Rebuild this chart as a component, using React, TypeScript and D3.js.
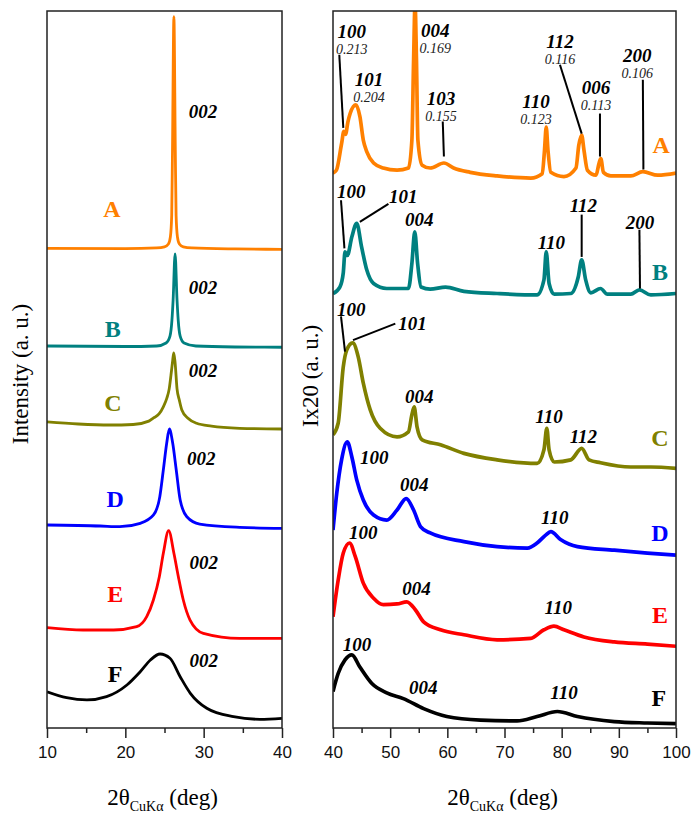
import { useEffect, useRef } from 'react';
import * as d3 from 'd3';

type Pt = [number, number];

const samples = ['A', 'B', 'C', 'D', 'E', 'F'];
const sampleColors = ['#ff8000', '#008080', '#808000', '#0000ff', '#ff0000', '#000000'];

// 002 region, 2θ 10-40 (stacked, a.u.)
const lowA: Pt[] = [[10, 66.9], [20, 66.86], [24, 66.95], [25, 67.1], [25.5, 67.5], [25.75, 68.5], [25.92, 71.5], [26.02, 80.6], [26.2, 99.2], [26.38, 80.6], [26.48, 71.5], [26.65, 68.5], [26.9, 67.5], [27.4, 67.1], [28.5, 66.95], [34, 66.81], [40, 66.76]];
const lowB: Pt[] = [[10, 53.28], [20, 53.21], [24, 53.28], [25.2, 53.7], [25.7, 54.67], [25.95, 56.9], [26.1, 59.69], [26.35, 66.11], [26.6, 59.69], [26.75, 56.9], [27, 54.67], [27.5, 53.7], [29, 53.28], [34, 53.14], [40, 53.1]];
const lowC: Pt[] = [[10, 42.7], [14, 42.4], [18, 42.26], [21, 42.33], [23, 42.8], [23.6, 43.24], [24.3, 43.8], [24.85, 44.8], [25.3, 46.0], [25.6, 47.3], [25.9, 49.9], [26.05, 51.3], [26.18, 52.3], [26.35, 51.0], [26.6, 47.3], [26.9, 45.7], [27.2, 44.4], [28, 43.2], [29.1, 42.5], [31, 42.1], [34.6, 41.8], [40, 41.7]];
const lowD: Pt[] = [[10, 28.31], [16.8, 28.17], [19.3, 28.08], [21.9, 28.55], [23.6, 29.71], [24.4, 32.26], [24.85, 35.98], [25.28, 39.71], [25.62, 41.7], [26.05, 39.71], [26.5, 35.98], [27, 31.8], [27.85, 29.47], [29.5, 28.45], [34.6, 27.99], [40, 27.85]];
const lowE: Pt[] = [[10, 13.99], [14.6, 13.67], [18.5, 13.67], [21.45, 14.13], [22.73, 15.52], [23.58, 17.85], [24.34, 21.1], [24.85, 24.37], [25.53, 27.52], [26.2, 24.37], [26.77, 21.1], [27.4, 17.85], [28.26, 15.06], [29.96, 13.21], [34.6, 12.51], [40, 12.51]];
const lowF: Pt[] = [[10, 5.06], [12.5, 4.23], [15.1, 3.91], [17.6, 4.37], [20.2, 6.0], [21.9, 7.85], [23.2, 9.48], [24.43, 10.32], [25.7, 9.72], [27, 7.15], [28.3, 4.84], [30.4, 2.75], [33.8, 1.58], [37.2, 1.21], [40, 1.35]];

// 2θ 40-100, intensity x20 (stacked, a.u.)
const highA: Pt[] = [[40.0, 77.4], [40.6, 77.8], [41.5, 81.5], [41.9, 83.2], [42.2, 82.8], [42.6, 84.5], [43.0, 85.7], [44.0, 86.9], [44.7, 85.3], [45.3, 82.0], [45.9, 80.4], [47.1, 78.8], [48.8, 78.1], [51.2, 77.8], [53.2, 78.1], [53.8, 82.0], [54.1, 93.2], [54.35, 101], [54.6, 93.2], [54.85, 82.0], [55.6, 78.5], [57.0, 78.1], [59.4, 78.8], [61.1, 78.1], [64.0, 77.5], [68.7, 77.0], [74.6, 76.7], [76.6, 77.3], [77.0, 80.6], [77.3, 83.8], [77.6, 80.6], [78.1, 77.5], [80.4, 76.9], [82.5, 78.1], [83.0, 81.3], [83.5, 82.7], [83.9, 80.6], [84.5, 77.8], [86.0, 77.1], [86.55, 78.8], [86.85, 79.4], [87.3, 77.5], [88.6, 77.0], [92.1, 77.0], [94.2, 77.6], [96.8, 77.1], [100, 77.4]];
const highB: Pt[] = [[40.0, 60.6], [41.2, 61.5], [41.8, 63.5], [42.1, 66.4], [42.5, 65.9], [43.3, 68.5], [44.15, 70.4], [45.0, 67.1], [45.9, 63.9], [47.1, 62.0], [49.4, 61.3], [53.2, 61.3], [53.8, 64.8], [54.3, 69.2], [54.8, 64.8], [55.4, 61.5], [57.0, 61.2], [59.7, 61.5], [62.9, 60.9], [68.7, 60.6], [75.7, 60.4], [76.9, 62.5], [77.3, 66.4], [77.8, 62.0], [78.7, 60.5], [81.6, 60.6], [82.9, 62.9], [83.5, 65.3], [84.2, 62.5], [85.1, 60.7], [86.8, 61.3], [88.0, 60.5], [92.1, 60.5], [93.6, 61.1], [95.6, 60.4], [100, 60.6]];
const highC: Pt[] = [[40.0, 40.9], [40.9, 42.5], [41.8, 50.4], [42.4, 52.7], [43.45, 53.7], [44.4, 51.8], [45.3, 48.1], [46.5, 44.4], [48.25, 41.8], [51.2, 40.6], [53.2, 41.3], [53.8, 43.7], [54.2, 44.8], [54.7, 42.0], [55.6, 40.2], [58.8, 39.5], [62.9, 38.3], [68.7, 37.4], [75.7, 36.9], [76.9, 38.8], [77.4, 41.8], [77.8, 38.8], [78.7, 37.1], [81.6, 37.4], [83.5, 39.0], [84.8, 37.4], [86.8, 37.0], [92.1, 36.4], [95.6, 36.4], [100, 36.2]];
const highD: Pt[] = [[40.0, 27.6], [40.65, 32.7], [41.5, 37.4], [42.5, 39.9], [43.3, 37.8], [44.15, 34.6], [45.3, 31.8], [47.1, 29.7], [49.4, 29.0], [51.2, 30.4], [52.8, 32.0], [54.1, 30.4], [55.3, 28.1], [57.0, 27.2], [62.9, 26.0], [68.7, 25.3], [74.0, 25.1], [75.7, 25.8], [77.2, 26.9], [78.1, 27.4], [79.8, 26.3], [82.75, 25.3], [89.2, 24.8], [95.0, 24.4], [100, 24.1]];
const highE: Pt[] = [[40.0, 15.5], [40.9, 20.6], [41.8, 24.4], [42.9, 25.8], [43.9, 23.9], [45.3, 20.2], [47.1, 18.1], [48.8, 17.2], [51.2, 17.3], [52.9, 17.6], [54.4, 16.5], [55.85, 14.8], [58.8, 13.7], [62.9, 13.0], [68.7, 12.3], [74.6, 12.5], [76.9, 13.7], [78.65, 14.2], [80.4, 13.7], [83.9, 12.7], [89.2, 12.0], [95.0, 11.7], [100, 11.4]];
const highF: Pt[] = [[40.0, 5.1], [40.9, 7.6], [42.1, 9.5], [43.3, 10.2], [44.7, 8.5], [46.8, 6.2], [49.4, 4.9], [52.3, 4.1], [55.85, 2.7], [59.9, 1.6], [65.8, 1.1], [72.2, 1.0], [75.7, 1.6], [79.25, 2.3], [82.75, 1.6], [89.2, 0.9], [95.0, 0.7], [100, 0.6]];

const lowScans = [lowA, lowB, lowC, lowD, lowE, lowF];
const highScans = [highA, highB, highC, highD, highE, highF];

const lowTicks = [10, 20, 30, 40];
const lowMinor = [15, 25, 35];
const highTicks = [40, 50, 60, 70, 80, 90, 100];
const highMinor = [45, 55, 65, 75, 85, 95];

// where the sample letters and hkl tags sit, in [2θ, I]
const lowTagAt: Pt[] = [[18.3, 71.3], [18.4, 54.5], [18.4, 44.2], [18.7, 30.8], [18.7, 17.6], [18.7, 6.4]];
const low002At: Pt[] = [[29.9, 85.1], [29.9, 60.5], [29.9, 49.0], [29.7, 36.7], [30.0, 22.2], [30.0, 8.5]];
const highTagAt: Pt[] = [[97.4, 80.2], [97.2, 62.5], [97.2, 39.3], [97.2, 26.1], [97.2, 14.6], [97.0, 3.1]];

// hkl, interplanar distance (nm), label position, optional leader line
const highPeaks: { hkl: string; d?: string; at: Pt; lead?: [Pt, Pt] }[] = [
  { hkl: '100', d: '0.213', at: [43.3, 96.2], lead: [[41.1, 93.9], [41.8, 83.7]] },
  { hkl: '101', d: '0.204', at: [46.3, 89.5] },
  { hkl: '004', d: '0.169', at: [57.9, 96.4] },
  { hkl: '103', d: '0.155', at: [58.9, 86.9], lead: [[59.2, 84.6], [59.4, 79.7]] },
  { hkl: '110', d: '0.123', at: [75.5, 86.5] },
  { hkl: '112', d: '0.116', at: [79.7, 94.8], lead: [[79.7, 92.5], [83.5, 82.9]] },
  { hkl: '006', d: '0.113', at: [86.0, 88.4], lead: [[86.7, 85.7], [86.7, 79.7]] },
  { hkl: '200', d: '0.106', at: [93.2, 92.9], lead: [[94.2, 90.4], [94.3, 77.9]] },
  { hkl: '100', at: [43.2, 73.9], lead: [[41.4, 73.6], [42.0, 66.9]] },
  { hkl: '101', at: [52.3, 73.2], lead: [[49.7, 73.1], [44.7, 70.6]] },
  { hkl: '004', at: [55.1, 70.0] },
  { hkl: '110', at: [78.2, 66.8] },
  { hkl: '112', at: [83.8, 72.0], lead: [[83.5, 71.6], [83.5, 65.7]] },
  { hkl: '200', at: [93.7, 69.6], lead: [[93.6, 69.5], [93.7, 61.3]] },
  { hkl: '100', at: [43.2, 57.5], lead: [[41.4, 57.4], [42.1, 52.5]] },
  { hkl: '101', at: [53.9, 55.5], lead: [[50.9, 56.4], [43.5, 54.1]] },
  { hkl: '004', at: [55.1, 45.3] },
  { hkl: '110', at: [77.8, 42.5] },
  { hkl: '112', at: [83.8, 39.7] },
  { hkl: '100', at: [47.2, 36.8] },
  { hkl: '004', at: [54.2, 33.1] },
  { hkl: '110', at: [78.8, 28.5] },
  { hkl: '100', at: [45.3, 26.4] },
  { hkl: '004', at: [54.6, 18.5] },
  { hkl: '110', at: [79.4, 15.9] },
  { hkl: '100', at: [44.2, 10.7] },
  { hkl: '004', at: [55.8, 4.7] },
  { hkl: '110', at: [80.4, 4.0] },
];

export default function App() {
  const svgRef = useRef<SVGSVGElement>(null);

  useEffect(() => {
    const svg = d3.select(svgRef.current);
    svg.selectAll('*').remove();

    const top = 11;
    const bottom = 728;
    const serif = '"Liberation Serif", "Times New Roman", serif';
    const sans = '"Liberation Sans", Arial, sans-serif';

    const y = d3.scaleLinear().domain([0, 100]).range([bottom, top]);

    const panels = [
      { id: 'low', left: 47, right: 282, domain: [10, 40], ticks: lowTicks, minor: lowMinor, scans: lowScans, title: 'Intensity (a. u.)', titleX: 28, titleY: 374, stroke: 2.8 },
      { id: 'high', left: 333, right: 676, domain: [40, 100], ticks: highTicks, minor: highMinor, scans: highScans, title: 'Ix20 (a. u.)', titleX: 318, titleY: 376, stroke: 3.7 },
    ];

    const scales: Record<string, d3.ScaleLinear<number, number>> = {};

    panels.forEach(p => {
      const x = d3.scaleLinear().domain(p.domain).range([p.left, p.right]);
      scales[p.id] = x;
      const g = svg.append('g');

      g.append('defs').append('clipPath')
        .attr('id', `clip-${p.id}`)
        .append('rect')
        .attr('x', p.left)
        .attr('y', top)
        .attr('width', p.right - p.left)
        .attr('height', bottom - top);

      const line = d3.line<Pt>()
        .x(d => x(d[0]))
        .y(d => y(d[1]))
        .curve(d3.curveMonotoneX);

      g.append('g')
        .attr('clip-path', `url(#clip-${p.id})`)
        .selectAll('path')
        .data(p.scans)
        .join('path')
        .attr('d', d => line(d))
        .attr('fill', 'none')
        .attr('stroke', (d, i) => sampleColors[i])
        .attr('stroke-width', p.stroke)
        .attr('stroke-linejoin', 'round');

      // frame
      g.append('rect')
        .attr('x', p.left)
        .attr('y', top)
        .attr('width', p.right - p.left)
        .attr('height', bottom - top)
        .attr('fill', 'none')
        .attr('stroke', '#222')
        .attr('stroke-width', 1.5);

      // ticks
      const major = g.append('g')
        .attr('transform', `translate(0,${bottom})`)
        .call(d3.axisBottom(x).tickValues(p.ticks).tickSize(10).tickPadding(8).tickFormat(d3.format('d')));
      major.select('.domain').remove();
      major.selectAll('line').attr('stroke', '#222').attr('stroke-width', 1.5);
      major.selectAll('text')
        .attr('fill', '#111')
        .style('font-family', sans)
        .style('font-size', '17px');

      const minor = g.append('g')
        .attr('transform', `translate(0,${bottom})`)
        .call(d3.axisBottom(x).tickValues(p.minor).tickSize(5).tickFormat(() => ''));
      minor.select('.domain').remove();
      minor.selectAll('line').attr('stroke', '#222').attr('stroke-width', 1.5);

      // x title: 2θ CuKα (deg)
      const xt = g.append('text')
        .attr('x', (p.left + p.right) / 2 - 2)
        .attr('y', 805)
        .attr('text-anchor', 'middle')
        .style('font-family', serif)
        .style('font-size', '23px');
      xt.append('tspan').text('2θ');
      xt.append('tspan').attr('dy', 6).style('font-size', '14px').text('CuKα');
      xt.append('tspan').attr('dy', -6).text(' (deg)');

      // y title
      g.append('text')
        .attr('transform', `translate(${p.titleX},${p.titleY}) rotate(-90)`)
        .attr('text-anchor', 'middle')
        .style('font-family', serif)
        .style('font-size', '23px')
        .text(p.title);
    });

    const xl = scales.low;
    const xh = scales.high;

    // sample letters
    const letters = (at: Pt[], x: d3.ScaleLinear<number, number>) => {
      svg.append('g')
        .selectAll('text')
        .data(samples)
        .join('text')
        .attr('x', (d, i) => x(at[i][0]))
        .attr('y', (d, i) => y(at[i][1]))
        .attr('text-anchor', 'middle')
        .attr('fill', (d, i) => sampleColors[i])
        .style('font-family', serif)
        .style('font-size', '24px')
        .style('font-weight', 'bold')
        .text(d => d);
    };
    letters(lowTagAt, xl);
    letters(highTagAt, xh);

    // 002 tags, left panel
    svg.append('g')
      .selectAll('text')
      .data(low002At)
      .join('text')
      .attr('x', d => xl(d[0]))
      .attr('y', d => y(d[1]))
      .attr('text-anchor', 'middle')
      .style('font-family', serif)
      .style('font-size', '19px')
      .style('font-weight', 'bold')
      .style('font-style', 'italic')
      .text('002');

    // hkl tags, right panel
    const tags = svg.append('g');
    tags.selectAll('line')
      .data(highPeaks.filter(d => d.lead))
      .join('line')
      .attr('x1', d => xh(d.lead![0][0]))
      .attr('y1', d => y(d.lead![0][1]))
      .attr('x2', d => xh(d.lead![1][0]))
      .attr('y2', d => y(d.lead![1][1]))
      .attr('stroke', '#000')
      .attr('stroke-width', 2);

    tags.selectAll('text.hkl')
      .data(highPeaks)
      .join('text')
      .attr('class', 'hkl')
      .attr('x', d => xh(d.at[0]))
      .attr('y', d => y(d.at[1]))
      .attr('text-anchor', 'middle')
      .style('font-family', serif)
      .style('font-size', '19px')
      .style('font-weight', 'bold')
      .style('font-style', 'italic')
      .text(d => d.hkl);

    tags.selectAll('text.dsp')
      .data(highPeaks.filter(d => d.d))
      .join('text')
      .attr('class', 'dsp')
      .attr('x', d => xh(d.at[0]))
      .attr('y', d => y(d.at[1]) + 16)
      .attr('text-anchor', 'middle')
      .attr('fill', '#222')
      .style('font-family', serif)
      .style('font-size', '14px')
      .style('font-style', 'italic')
      .text(d => d.d!);
  }, []);

  return (
    <svg
      ref={svgRef}
      width={695}
      height={815}
      style={{ position: 'absolute', left: 0, top: 0, background: '#fff' }}
    />
  );
}
